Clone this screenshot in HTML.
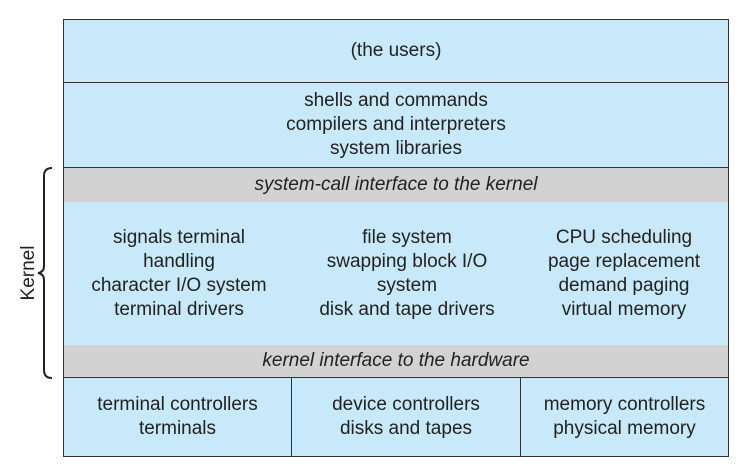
<!DOCTYPE html>
<html><head><style>
body{margin:0;width:755px;height:472px;background:#fff;position:relative;font-family:"Liberation Sans",sans-serif;color:#222;overflow:hidden}
.b{position:absolute;box-sizing:border-box;display:flex;align-items:center;justify-content:center;text-align:center;font-size:19px;line-height:24px}
.blue{background:#c7e9f9}
.gray{background:#d2d2d2;font-style:italic}
</style></head><body>
<div style="position:absolute;left:63px;top:19px;width:666px;height:438px;border:1.5px solid #333;box-sizing:border-box;background:#c7e9f9"></div>
<div class="b blue" style="left:64px;top:20px;width:664px;height:63px;border-bottom:1.5px solid #333">(the users)</div>
<div class="b blue" style="left:64px;top:83px;width:664px;height:85px;border-bottom:1.5px solid #333">shells and commands<br>compilers and interpreters<br>system libraries</div>
<div class="b gray" style="left:64px;top:168px;width:664px;height:34px">system-call interface to the kernel</div>
<div class="b" style="left:64px;top:202px;width:230px;height:143px">signals terminal<br>handling<br>character I/O system<br>terminal drivers</div>
<div class="b" style="left:294px;top:202px;width:226px;height:143px">file system<br>swapping block I/O<br>system<br>disk and tape drivers</div>
<div class="b" style="left:520px;top:202px;width:208px;height:143px">CPU scheduling<br>page replacement<br>demand paging<br>virtual memory</div>
<div class="b gray" style="left:64px;top:345px;width:664px;height:33px;border-bottom:1.5px solid #333">kernel interface to the hardware</div>
<div class="b" style="left:64px;top:378px;width:228px;height:78px;border-right:1.5px solid #333">terminal controllers<br>terminals</div>
<div class="b" style="left:292px;top:378px;width:229px;height:78px;border-right:1.5px solid #333">device controllers<br>disks and tapes</div>
<div class="b" style="left:521px;top:378px;width:207px;height:78px">memory controllers<br>physical memory</div>
<svg style="position:absolute;left:0;top:0" width="755" height="472">
<path d="M52 168 Q44 168 44 176 L44 266 Q44 272 38 273 Q44 274 44 280 L44 370 Q44 378 52 378" fill="none" stroke="#222" stroke-width="2"/>
<text x="27" y="273" font-size="19" font-family="Liberation Sans" fill="#222" text-anchor="middle" transform="rotate(-90 27 273)" dy="7">Kernel</text>
</svg>
</body></html>
